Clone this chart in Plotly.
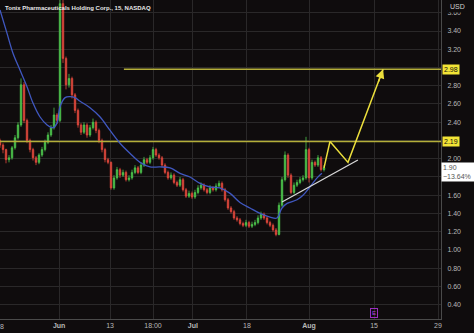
import plotly.graph_objects as go

# ---------------- data ----------------
closes = [2.15, 2.10, 1.99, 2.01, 2.12, 2.23, 2.37, 2.81, 2.42, 2.20,
          2.10, 2.01, 1.96, 2.04, 2.10, 2.18, 2.26, 2.34, 2.48, 2.42,
          3.70, 3.10, 2.81, 2.88, 2.70, 2.53, 2.37, 2.29, 2.37, 2.26,
          2.34, 2.40, 2.31, 2.20, 2.10, 1.99, 1.96, 1.68, 1.79, 1.88,
          1.82, 1.85, 1.77, 1.79, 1.85, 1.90, 1.85, 1.93, 1.99, 1.96,
          2.01, 2.10, 2.04, 2.01, 1.93, 1.85, 1.79, 1.82, 1.74, 1.71,
          1.77, 1.66, 1.59, 1.62, 1.58, 1.63, 1.68, 1.71, 1.66, 1.63,
          1.68, 1.66, 1.70, 1.73, 1.66, 1.55, 1.46, 1.42, 1.35, 1.33,
          1.29, 1.27, 1.30, 1.26, 1.28, 1.30, 1.35, 1.39, 1.35, 1.30,
          1.27, 1.22, 1.17, 1.49, 1.77, 2.04, 1.82, 1.63, 1.71, 1.74,
          1.77, 1.79, 2.10, 1.79, 1.96, 1.93, 2.01, 1.88, 1.90]
opens = [2.20, 2.15, 2.10, 1.99, 2.01, 2.12, 2.23, 2.37, 2.81, 2.42,
         2.20, 2.10, 2.01, 1.96, 2.04, 2.10, 2.18, 2.26, 2.34, 2.48,
         2.42, 3.70, 3.10, 2.81, 2.88, 2.70, 2.53, 2.37, 2.29, 2.37,
         2.26, 2.34, 2.40, 2.31, 2.20, 2.10, 1.99, 1.96, 1.68, 1.79,
         1.88, 1.82, 1.85, 1.77, 1.79, 1.85, 1.90, 1.85, 1.93, 1.99,
         1.96, 2.01, 2.10, 2.04, 2.01, 1.93, 1.85, 1.79, 1.82, 1.74,
         1.71, 1.77, 1.66, 1.59, 1.62, 1.58, 1.63, 1.68, 1.71, 1.66,
         1.63, 1.68, 1.66, 1.70, 1.73, 1.66, 1.55, 1.46, 1.42, 1.35,
         1.33, 1.29, 1.27, 1.30, 1.26, 1.28, 1.30, 1.35, 1.39, 1.35,
         1.30, 1.27, 1.22, 1.17, 1.49, 1.77, 2.04, 1.82, 1.63, 1.71,
         1.74, 1.77, 1.79, 2.10, 1.79, 1.96, 1.93, 2.01, 1.88]
highs = [2.22, 2.17, 2.11, 2.04, 2.14, 2.26, 2.40, 2.88, 2.84, 2.44,
         2.22, 2.12, 2.03, 2.06, 2.13, 2.21, 2.29, 2.37, 2.56, 2.50,
         3.85, 3.78, 3.12, 2.93, 2.90, 2.72, 2.55, 2.39, 2.40, 2.39,
         2.37, 2.44, 2.42, 2.33, 2.22, 2.12, 2.01, 1.97, 1.82, 1.91,
         1.90, 1.88, 1.87, 1.82, 1.88, 1.93, 1.92, 1.96, 2.02, 2.01,
         2.04, 2.13, 2.12, 2.06, 2.03, 1.95, 1.87, 1.85, 1.84, 1.76,
         1.80, 1.79, 1.68, 1.65, 1.64, 1.66, 1.71, 1.74, 1.73, 1.68,
         1.71, 1.70, 1.73, 1.76, 1.75, 1.68, 1.57, 1.48, 1.44, 1.37,
         1.35, 1.31, 1.33, 1.32, 1.31, 1.33, 1.38, 1.42, 1.41, 1.37,
         1.32, 1.29, 1.24, 1.52, 1.80, 2.08, 2.06, 1.84, 1.74, 1.77,
         1.80, 1.82, 2.24, 2.12, 1.99, 1.98, 2.04, 2.03, 1.93]
lows = [2.12, 2.06, 1.95, 1.96, 1.99, 2.10, 2.21, 2.35, 2.39, 2.17,
        2.07, 1.98, 1.93, 1.94, 2.02, 2.08, 2.16, 2.24, 2.32, 2.38,
        2.40, 3.05, 2.76, 2.78, 2.66, 2.50, 2.34, 2.26, 2.27, 2.23,
        2.24, 2.32, 2.28, 2.17, 2.07, 1.96, 1.94, 1.66, 1.66, 1.77,
        1.79, 1.80, 1.75, 1.75, 1.77, 1.83, 1.83, 1.83, 1.91, 1.94,
        1.94, 1.99, 2.02, 1.99, 1.91, 1.83, 1.77, 1.77, 1.72, 1.69,
        1.69, 1.64, 1.57, 1.57, 1.56, 1.56, 1.61, 1.66, 1.64, 1.61,
        1.61, 1.64, 1.64, 1.68, 1.64, 1.53, 1.44, 1.40, 1.33, 1.31,
        1.27, 1.25, 1.25, 1.24, 1.24, 1.26, 1.28, 1.33, 1.33, 1.28,
        1.25, 1.20, 1.15, 1.16, 1.47, 1.75, 1.79, 1.61, 1.61, 1.69,
        1.72, 1.75, 1.77, 1.74, 1.77, 1.91, 1.91, 1.86, 1.86]
bar_slots = list(range(len(closes)))

ma_slots = [0, 2.3, 4.3, 6.7, 9, 11, 13.3, 15.7, 17.7, 19, 20, 21.7, 23.3, 25,
            26.7, 30, 33.3, 36.7, 40, 43.3, 46.7, 50, 53.3, 56.7, 60, 63.3,
            66.7, 70, 73.3, 76.7, 80, 83.3, 86.7, 90, 92.3, 94, 95.7, 99,
            101, 103.3, 105.7, 107.3]
ma_values = [3.63, 3.38, 3.16, 2.97, 2.79, 2.61, 2.46, 2.37, 2.34, 2.39,
             2.57, 2.67, 2.68, 2.67, 2.63, 2.56, 2.46, 2.31, 2.17, 2.06,
             1.96, 1.91, 1.91, 1.90, 1.84, 1.80, 1.73, 1.69, 1.68, 1.62,
             1.52, 1.46, 1.40, 1.36, 1.35, 1.46, 1.51, 1.55, 1.60, 1.69,
             1.79, 1.84]

trend_slots = [94, 119.3]
trend_values = [1.525, 1.986]

proj_slots = [108, 110, 116, 127.7]
proj_values = [1.90, 2.19, 1.96, 2.98]

target_level = 2.98
target_start = 41.3
resist_level = 2.19
last_price = "1.90"
last_change = "\u221213.64%"
last_label_center = 1.86

x_tick_slots = [19.7, 36.7, 51, 64.3, 82.3, 103, 124.7, 146]
x_tick_text = ["<b>Jun</b>", "13", "18:00", "<b>Jul</b>", "18", "<b>Aug</b>", "15", "29"]
y_ticks = [0.4, 0.6, 0.8, 1.0, 1.2, 1.4, 1.6, 1.8, 2.0, 2.2, 2.4, 2.6, 2.8, 3.0, 3.2, 3.4, 3.6]
# labels hidden behind the price boxes in the reference (1.80, 2.20, 3.00)
y_tick_text = ["0.40", "0.60", "0.80", "1.00", "1.20", "1.40", "1.60", "", "2.00", "",
               "2.40", "2.60", "2.80", "", "3.20", "3.40", "3.60"]
earnings_slot = 124.7

# ---------------- style ----------------
BG = "#0f0c0d"
GRID = "#2a2829"
TXT = "#b8b8b8"
GREEN = "#4cc44c"
RED = "#e0483c"
BLUE = "#4058c0"
YLINE = "#b4ae3a"
YPROJ = "#ecdf3c"
FONT = "Liberation Sans"

fig = go.Figure()

# horizontal levels
fig.add_trace(go.Scatter(x=[target_start, 147], y=[target_level, target_level], mode="lines",
                         line=dict(color=YLINE, width=1.5), hoverinfo="skip", showlegend=False))
fig.add_trace(go.Scatter(x=[0, 147], y=[resist_level, resist_level], mode="lines",
                         line=dict(color=YLINE, width=1.5), hoverinfo="skip", showlegend=False))

fig.add_trace(go.Candlestick(
    x=bar_slots, open=opens, high=highs, low=lows, close=closes,
    increasing=dict(line=dict(color=GREEN, width=0.8), fillcolor=GREEN),
    decreasing=dict(line=dict(color=RED, width=0.8), fillcolor=RED),
    whiskerwidth=0, showlegend=False))

fig.add_trace(go.Scatter(x=ma_slots, y=ma_values, mode="lines", line=dict(color=BLUE, width=1.3, shape="spline"),
                         hoverinfo="skip", showlegend=False))

fig.add_trace(go.Scatter(x=trend_slots, y=trend_values, mode="lines", line=dict(color="#d8d8d8", width=1.3),
                         hoverinfo="skip", showlegend=False))

fig.add_trace(go.Scatter(x=proj_slots, y=proj_values, mode="lines", line=dict(color=YPROJ, width=1.5),
                         hoverinfo="skip", showlegend=False))

annotations = [
    dict(xref="x", yref="y", x=proj_slots[-1], y=proj_values[-1],
         axref="x", ayref="y", ax=proj_slots[-2] + (proj_slots[-1] - proj_slots[-2]) * 0.85,
         ay=proj_values[-2] + (proj_values[-1] - proj_values[-2]) * 0.85,
         showarrow=True, arrowhead=2, arrowsize=1.2, arrowwidth=1.5, arrowcolor=YPROJ, text=""),
    dict(xref="paper", yref="paper", x=0, y=1, xanchor="left", yanchor="top", xshift=3, yshift=-3,
         text="<b>Tonix Pharmaceuticals Holding Corp., 15, NASDAQ</b>", showarrow=False,
         font=dict(family=FONT, size=6, color="#e8e8e8")),
    dict(xref="paper", yref="paper", x=1, y=1, xanchor="left", yanchor="top", xshift=6, yshift=0,
         text="USD", showarrow=False, bgcolor=BG, borderpad=2, font=dict(family=FONT, size=7, color="#d0d0d0")),
    dict(xref="paper", yref="y", x=1, y=target_level, xanchor="left", yanchor="middle", xshift=1,
         text="2.98", showarrow=False, bgcolor="#f2e436", borderpad=1,
         font=dict(family=FONT, size=7, color="#111111")),
    dict(xref="paper", yref="y", x=1, y=resist_level, xanchor="left", yanchor="middle", xshift=1,
         text="2.19", showarrow=False, bgcolor="#f2e436", borderpad=1,
         font=dict(family=FONT, size=7, color="#111111")),
    dict(xref="paper", yref="y", x=1, y=last_label_center, xanchor="left", yanchor="middle", xshift=0,
         text=last_price + "<br>" + last_change, showarrow=False, bgcolor="#ffffff", borderpad=1, align="left",
         width=31, font=dict(family=FONT, size=7, color="#555555")),
    dict(xref="x", yref="paper", x=earnings_slot, y=0, xanchor="center", yanchor="bottom", yshift=1,
         text="E", showarrow=False, bordercolor="#9a2fc0", borderwidth=1, borderpad=1,
         font=dict(family=FONT, size=6, color="#b040e0")),
    dict(xref="x", yref="paper", x=0.7, y=0, xanchor="center", yanchor="top", yshift=-2,
         text="8", showarrow=False, font=dict(family=FONT, size=7, color=TXT)),
]

fig.update_layout(
    width=474, height=333,
    margin=dict(l=0, r=33, t=0, b=14),
    paper_bgcolor=BG, plot_bgcolor=BG,
    showlegend=False,
    annotations=annotations,
    xaxis=dict(range=[0, 147], tickvals=x_tick_slots, ticktext=x_tick_text,
               showgrid=True, gridcolor=GRID, gridwidth=1, zeroline=False,
               showline=True, linecolor="#4a4a4a", linewidth=1, ticks="",
               tickfont=dict(family=FONT, size=7, color=TXT), rangeslider=dict(visible=False),
               fixedrange=True),
    yaxis=dict(range=[0.243, 3.74], side="right", tickvals=y_ticks, ticktext=y_tick_text,
               showgrid=True, gridcolor=GRID, gridwidth=1, zeroline=False,
               showline=True, linecolor="#4a4a4a", linewidth=1, ticks="",
               tickfont=dict(family=FONT, size=7, color=TXT), ticklabelstandoff=4,
               fixedrange=True),
)

fig.write_html("out.html")
